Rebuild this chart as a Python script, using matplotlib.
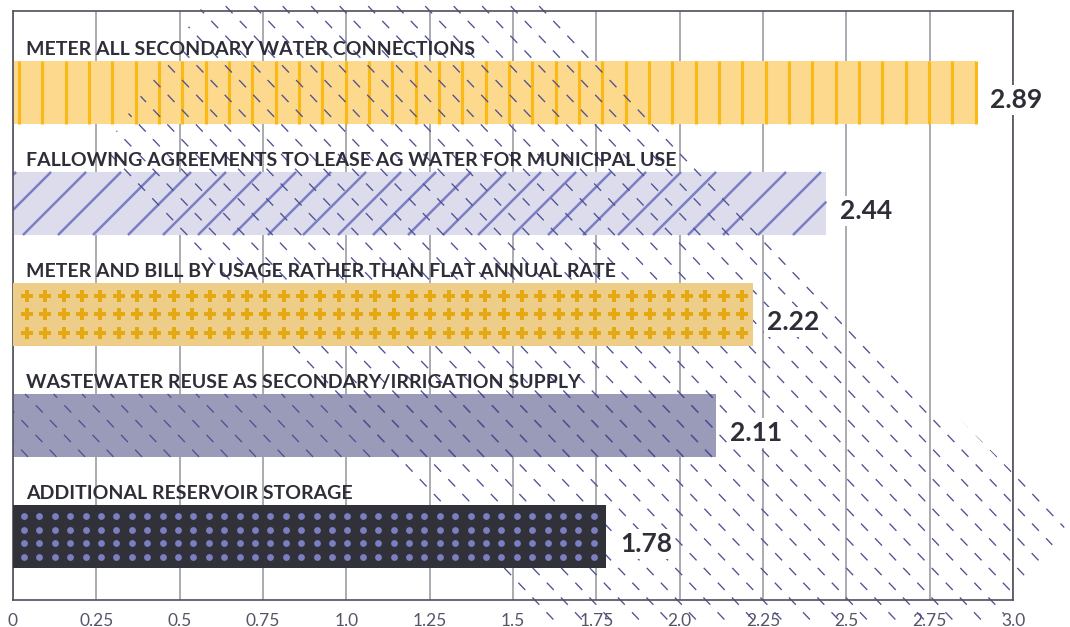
import numpy as np
import matplotlib
matplotlib.use('Agg')  # no display
import matplotlib.pyplot as plt
import matplotlib.transforms as mtransforms
from matplotlib.patches import Polygon
from matplotlib.collections import LineCollection

# ---- data ----
categories = [
    "METER ALL SECONDARY WATER CONNECTIONS",
    "FALLOWING AGREEMENTS TO LEASE AG WATER FOR MUNICIPAL USE",
    "METER AND BILL BY USAGE RATHER THAN FLAT ANNUAL RATE",
    "WASTEWATER REUSE AS SECONDARY/IRRIGATION SUPPLY",
    "ADDITIONAL RESERVOIR STORAGE",
]
values = [2.89, 2.44, 2.22, 2.11, 1.78]
x_ticks = [0, 0.25, 0.5, 0.75, 1.0, 1.25, 1.5, 1.75, 2.0, 2.25, 2.5, 2.75, 3.0]
x_tick_labels = ["0", "0.25", "0.5", "0.75", "1.0", "1.25", "1.5", "1.75",
                 "2.0", "2.25", "2.5", "2.75", "3.0"]

# ---- styling ----
TEXT = '#2e2e38'
FILLS = ['#fcd98c', '#dcdced', '#eecd89', '#9a9bb9', '#303139']
BAR_Z = [1, 1, 3, 1, 3]
DASH_COLOR = '#4e5094'
DASH_ON, DASH_OFF, DASH_OFFSET = 7.2, 7.5, 8.2   # points
SLOPE = 1.05        # dy/dx of the "\" dashes (pixel space)
SPACING = 28.5      # horizontal spacing of dash lines, px

plt.rcParams['lines.scale_dashes'] = False
plt.rcParams['font.family'] = ['Lato', 'DejaVu Sans']

W, H = 1070, 627
fig = plt.figure(figsize=(W / 100, H / 100), dpi=100)
ax = fig.add_axes([13 / W, 1 - 600 / H, 1000 / W, 589 / H])

# pixel coordinates, origin top-left
pix = mtransforms.Affine2D().scale(1 / W, -1 / H).translate(0, 1) + fig.transFigure

ypos = np.arange(len(values))
bar_h = 0.568
ax.set_xlim(0, 3.0)
ax.set_ylim(4.572, -0.734)

bars = []
for y, v, c, z in zip(ypos, values, FILLS, BAR_Z):
    bars.append(ax.barh(y, v, height=bar_h, color=c, linewidth=0, zorder=z)[0])

px_x = 1000 / 3.0       # pixels per x unit
px_y = 589 / 5.306      # pixels per y unit
line_len = np.hypot(1.0, 1.0 / SLOPE)   # px of line per px of y


def bar_box(i):
    # bar extent in pixel coords (y down)
    (xa, ya), (xb, yb) = ax.transData.transform(
        [(0, ypos[i] - bar_h / 2), (values[i], ypos[i] + bar_h / 2)])
    return xa, xb, H - max(ya, yb), H - min(ya, yb)


def dash_segments(box):
    # "\" dashed lines, x = c + (y + 30) / SLOPE, cut to a box with matching dash phase
    x0, x1, y0, y1 = box
    segs, styles = [], []
    for c in np.arange(20.3 - SPACING * 40, W + 10, SPACING):
        lo = max(y0, (x0 - c) * SLOPE - 30)
        hi = min(y1, (x1 - c) * SLOPE - 30)
        if hi <= lo:
            continue
        segs.append([(c + (lo + 30) / SLOPE, lo), (c + (hi + 30) / SLOPE, hi)])
        off = (DASH_OFFSET + (lo + 30) * line_len * 0.72) % (DASH_ON + DASH_OFF)
        styles.append((off, (DASH_ON, DASH_OFF)))
    return LineCollection(segs, colors=DASH_COLOR, linewidths=0.95,
                          linestyles=styles, transform=pix)


# background decorative band
band = Polygon([(214, -10), (95, 162), (573, 650), (980, 650), (1066, 525), (528, -10)],
               closed=True, transform=pix)
bg = dash_segments((0.5, W - 0.5, 0.5, H - 0.5))
bg.set_clip_path(band)
bg.set_zorder(2)
ax.add_collection(bg, autolim=False)

# bar 1: vertical stripes
stripes_x = np.arange(0.018, values[0], 0.07)
ax.vlines(stripes_x, ypos[0] - bar_h / 2, ypos[0] + bar_h / 2,
          colors='#fbb917', linewidth=2.2, zorder=1.5)

# bar 2: solid "/" lines, x = c - y
x0, x1, y0, y1 = bar_box(1)
segs = []
for c in np.arange(13 - 35 * 30, W + 700, 35):
    lo, hi = max(y0, c - x1), min(y1, c - x0)
    if hi > lo:
        segs.append([(c - lo, lo), (c - hi, hi)])
ax.add_collection(LineCollection(segs, colors='#7b7fc3', linewidths=1.8,
                                 transform=pix, zorder=1.5), autolim=False)

# bar 3: plus markers
plus_x = np.arange(0.042, values[2] - 0.03, 0.055)
for dy in [-18.5, 0, 18.5]:
    ax.scatter(plus_x, np.full(len(plus_x), ypos[2] + dy / px_y), marker='P',
               s=70, color='#e3a812', linewidths=0, zorder=3.5)

# bar 4: dashed "\" lines
wd = dash_segments(bar_box(3))
wd.set_zorder(1.5)
ax.add_collection(wd, autolim=False)

# bar 5: dots
dot_x = np.arange(0.033, values[4] - 0.02, 0.0462)
for dy in [-20.6, -6.9, 6.9, 20.6]:
    ax.scatter(dot_x, np.full(len(dot_x), ypos[4] + dy / px_y), marker='o',
               s=24, color='#7c7ec2', linewidths=0, zorder=3.5)

# labels
for y, cat, v in zip(ypos, categories, values):
    ax.text(0.039, y - 0.39, cat, ha='left', va='center', fontsize=14,
            fontweight='bold', color=TEXT, zorder=6)
    ax.text(v + 14 / px_x, y + 0.065, f"{v:.2f}", ha='left', va='center',
            fontsize=19, fontweight='bold', color=TEXT, zorder=6,
            bbox=dict(facecolor='white', edgecolor='none', pad=2))

# axes
ax.set_xticks(x_ticks)
ax.set_xticklabels(x_tick_labels, fontsize=12.5, color='#55556a')
ax.set_yticks([])
ax.tick_params(axis='x', length=0, pad=9)
ax.grid(axis='x', color='#9c9ca4', linewidth=1.2, zorder=0.5)
ax.set_axisbelow(True)
for s in ax.spines.values():
    s.set_color('#4f4f5c')
    s.set_linewidth(1.2)

fig.savefig('out.png', dpi=100)
plt.close(fig)
